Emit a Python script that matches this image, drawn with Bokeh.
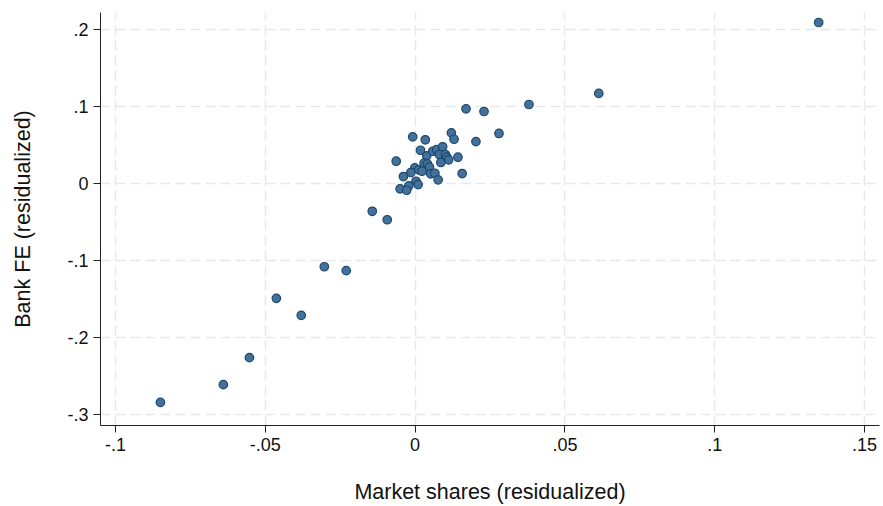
from bokeh.plotting import figure
from bokeh.models import FixedTicker, Range1d, ColumnDataSource
from bokeh.embed import file_html
from bokeh.resources import INLINE

# Residualized market shares (x) and bank fixed effects (y), one point per bank
market_share = [
    0.1347, 0.0613, 0.0380, 0.0280, 0.0170, 0.0230, 0.0203, 0.0157,
    -0.0143, -0.0093, -0.0303, -0.0230, -0.0463, -0.0380, -0.0553, -0.0640, -0.0850,
    0.0121, 0.0130, -0.0008, 0.0034, -0.0063, 0.0018, 0.0039, 0.0059,
    0.0072, 0.0092, 0.0081, 0.0101, 0.0106, 0.0112, 0.0143, 0.0086,
    0.0030, 0.0041, 0.0048, -0.0001, 0.0012, 0.0023, -0.0014, 0.0052,
    0.0066, -0.0039, 0.0077, 0.0003, 0.0010, -0.0021, -0.0050, -0.0028,
]
bank_fe = [
    0.209, 0.117, 0.1026, 0.065, 0.097, 0.0935, 0.0545, 0.013,
    -0.036, -0.047, -0.108, -0.113, -0.149, -0.171, -0.226, -0.261, -0.284,
    0.0658, 0.0575, 0.0606, 0.0568, 0.0290, 0.0432, 0.0360, 0.0419,
    0.0442, 0.0477, 0.0377, 0.0377, 0.0342, 0.0308, 0.0342, 0.0273,
    0.0264, 0.0256, 0.0212, 0.0204, 0.0178, 0.0160, 0.0143, 0.0126,
    0.0134, 0.0091, 0.0048, 0.0030, -0.0013, -0.0030, -0.0069, -0.0087,
]

x_ticks = [-0.1, -0.05, 0, 0.05, 0.1, 0.15]
x_tick_labels = ["-.1", "-.05", "0", ".05", ".1", ".15"]
y_ticks = [-0.3, -0.2, -0.1, 0, 0.1, 0.2]
y_tick_labels = ["-.3", "-.2", "-.1", "0", ".1", ".2"]

FONT = "Liberation Sans"

p = figure(
    width=883, height=506,
    output_backend="svg", toolbar_location=None,
    x_range=Range1d(-0.105, 0.155), y_range=Range1d(-0.314, 0.222),
    min_border_left=100, min_border_right=4, min_border_top=12, min_border_bottom=81,
)
p.outline_line_color = None
p.background_fill_color = "white"
p.border_fill_color = "white"

src = ColumnDataSource(dict(x=market_share, y=bank_fe))
p.scatter("x", "y", source=src, size=8.5, fill_color="#44709a",
          line_color="#1a476f", line_width=1.2)

p.xaxis.ticker = FixedTicker(ticks=x_ticks)
p.yaxis.ticker = FixedTicker(ticks=y_ticks)
p.xaxis.major_label_overrides = dict(zip(x_ticks, x_tick_labels))
p.yaxis.major_label_overrides = dict(zip(y_ticks, y_tick_labels))

for ax in (p.xaxis, p.yaxis):
    ax.axis_line_color = "#222222"
    ax.axis_line_width = 1
    ax.major_tick_line_color = "#222222"
    ax.major_tick_out = 7
    ax.major_tick_in = 0
    ax.minor_tick_line_color = None
    ax.major_label_text_font = FONT
    ax.major_label_text_font_size = "18px"
    ax.major_label_text_color = "#111111"
    ax.axis_label_text_font = FONT
    ax.axis_label_text_font_size = "21.5px"
    ax.axis_label_text_font_style = "normal"
    ax.axis_label_text_color = "#111111"

p.xaxis.axis_label = "Market shares (residualized)"
p.yaxis.axis_label = "Bank FE (residualized)"
p.xaxis.major_label_standoff = 5
p.yaxis.major_label_standoff = 5
p.xaxis.axis_label_standoff = 26
p.yaxis.axis_label_standoff = 29

for g in (p.xgrid, p.ygrid):
    g.grid_line_color = "#e8e8e8"
    g.grid_line_dash = "10 5"
    g.grid_line_width = 1.5

open("out.html", "w").write(file_html(p, INLINE))
